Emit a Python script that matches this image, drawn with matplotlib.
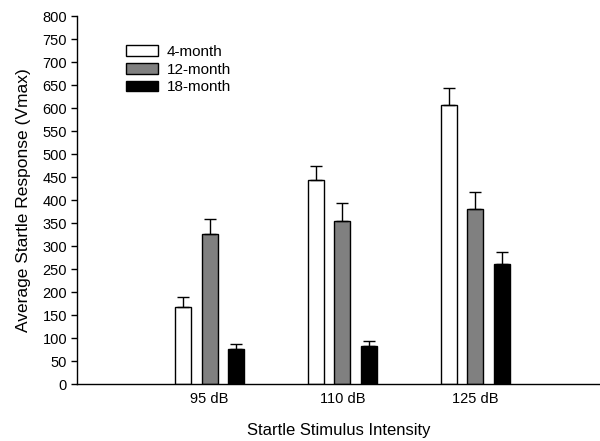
import matplotlib
matplotlib.use("Agg")
import matplotlib.pyplot as plt
import numpy as np

plt.rcParams['font.family'] = ['Liberation Sans', 'DejaVu Sans']

intensities = ["95 dB", "110 dB", "125 dB"]
groups = ["4-month", "12-month", "18-month"]
mean_4 = [168, 444, 607]
mean_12 = [327, 354, 381]
mean_18 = [76, 83, 262]
err_4 = [21, 30, 36]
err_12 = [32, 40, 36]
err_18 = [12, 10, 25]
yticks = list(range(0, 801, 50))

fig = plt.figure(figsize=(6.0, 4.41), dpi=100)
ax = fig.add_axes([0.128, 0.129, 0.872, 0.834])

x = np.arange(1, len(intensities) + 1)
w = 0.12
off = 0.20
colors = ["white", "#808080", "black"]
means = [mean_4, mean_12, mean_18]
errs = [err_4, err_12, err_18]
for i, (m, e, c, g) in enumerate(zip(means, errs, colors, groups)):
    xs = x + (i - 1) * off
    ax.bar(xs, m, width=w, color=c, edgecolor="black", linewidth=1.0, label=g, zorder=2)
    ax.errorbar(xs, m, yerr=[np.zeros(len(e)), e], fmt="none", ecolor="black",
                elinewidth=1.0, capsize=4, capthick=1.0, zorder=3)

ax.set_xlim(0.0, 3.94)
ax.set_ylim(0, 800)
ax.set_yticks(yticks)
ax.set_yticklabels([str(t) for t in yticks], fontsize=10.5)
ax.set_xticks(x)
ax.set_xticklabels(intensities, fontsize=10.5)
ax.tick_params(axis="x", length=0, pad=6)
ax.tick_params(axis="y", length=4, width=1, direction="out", pad=3)
for s in ["top", "right"]:
    ax.spines[s].set_visible(False)
for s in ["left", "bottom"]:
    ax.spines[s].set_linewidth(1.0)

ax.set_xlabel("Startle Stimulus Intensity", fontsize=12, labelpad=12)
ax.set_ylabel("Average Startle Response (Vmax)", fontsize=12.5, labelpad=8)

leg = ax.legend(loc="upper left", bbox_to_anchor=(0.067, 0.96), frameon=False,
                fontsize=11, handlelength=2.1, handleheight=0.7,
                labelspacing=0.25, handletextpad=0.6)

fig.savefig("out.png", dpi=100)
